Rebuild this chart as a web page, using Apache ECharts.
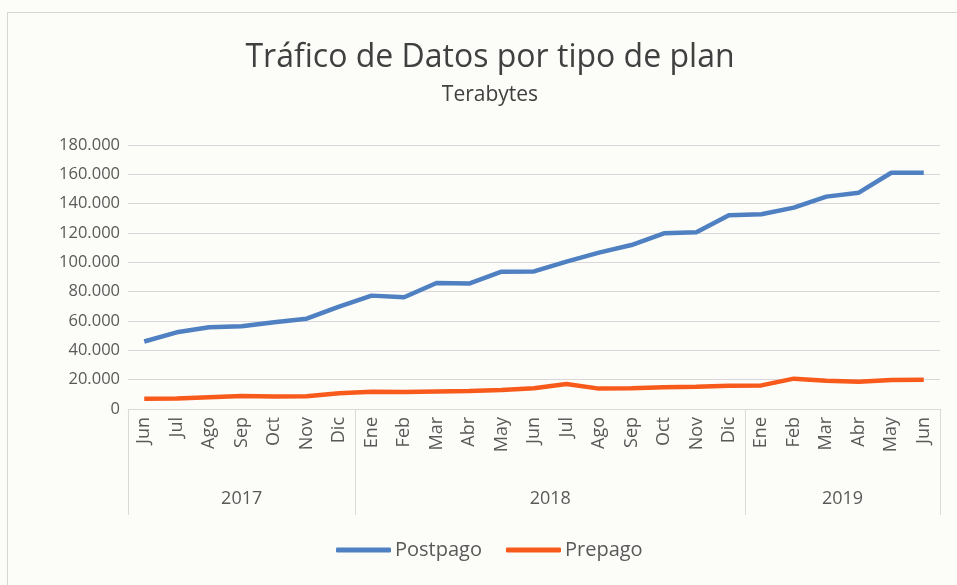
<!DOCTYPE html>
<html>
<head>
<meta charset="utf-8">
<script src="https://cdn.jsdelivr.net/npm/echarts@6/dist/echarts.min.js"></script>
<style>
  html, body { margin: 0; padding: 0; background: #fcfcf8; }
  #frame { position: absolute; left: 7px; top: 12px; width: 960px; height: 590px; border: 1px solid #d6d6d6; box-sizing: border-box; }
  #chart { position: absolute; left: 0; top: 0; width: 957px; height: 585px; }
</style>
</head>
<body>
<div id="frame"></div>
<div id="chart"></div>
<script>
const months = ['Jun','Jul','Ago','Sep','Oct','Nov','Dic','Ene','Feb','Mar','Abr','May','Jun','Jul','Ago','Sep','Oct','Nov','Dic','Ene','Feb','Mar','Abr','May','Jun'];
const monthYears = ['2017','2017','2017','2017','2017','2017','2017',
  '2018','2018','2018','2018','2018','2018','2018','2018','2018','2018','2018','2018',
  '2019','2019','2019','2019','2019','2019'];
const postpago = [46000, 52300, 55700, 56400, 59100, 61600, 69800, 77300, 76200, 85900, 85500, 93600, 93800, 100500, 106600, 111800, 119800, 120500, 132100, 132800, 137300, 144800, 147500, 161100, 161000];
const prepago = [7000, 7200, 8000, 8800, 8500, 8700, 10700, 11800, 11600, 12000, 12300, 13000, 14100, 17000, 13900, 14100, 14800, 15200, 15900, 16100, 20700, 19300, 18600, 19800, 20000];

// year groups derived from monthYears
const years = [];
const yearStart = [];
const yearCount = [];
monthYears.forEach((y, i) => {
  if (!years.length || years[years.length - 1] !== y) { years.push(y); yearStart.push(i); yearCount.push(0); }
  yearCount[yearCount.length - 1]++;
});
const yearCenters = years.map((y, k) => yearStart[k] + yearCount[k] / 2);

const fontFam = '"Open Sans", "Noto Sans", sans-serif';
const txt = '#595959';

function fmt(v) {
  return String(v).replace(/\B(?=(\d{3})+(?!\d))/g, '.');
}

const chart = echarts.init(document.getElementById('chart'), null, { renderer: 'canvas' });
chart.setOption({
  animation: false,
  textStyle: { fontFamily: fontFam },
  title: {
    text: 'Tráfico de Datos por tipo de plan',
    subtext: 'Terabytes',
    left: 485,
    textAlign: 'center',
    top: 37,
    itemGap: 11,
    textStyle: { fontSize: 32, fontWeight: 'normal', color: '#404040', fontFamily: fontFam },
    subtextStyle: { fontSize: 21, color: '#404040', fontFamily: fontFam }
  },
  legend: {
    bottom: 20,
    left: 331,
    icon: 'roundRect',
    itemWidth: 55,
    itemHeight: 5,
    itemGap: 24,
    textStyle: { fontSize: 20, color: txt, fontFamily: fontFam, padding: [0, 0, 0, -1] },
    data: ['Postpago', 'Prepago']
  },
  grid: { left: 128, right: 17, top: 145, bottom: 176, containLabel: false },
  xAxis: [
    {
      type: 'category',
      data: months,
      boundaryGap: true,
      axisLine: { show: true, lineStyle: { color: '#d9d9d9', width: 1 } },
      axisTick: {
        show: true,
        length: 106,
        interval: function (index) { return yearStart.indexOf(index) >= 0; },
        lineStyle: { color: '#d9d9d9', width: 1 }
      },
      axisLabel: { interval: 0, rotate: 90, fontSize: 18, color: txt, margin: 8, fontFamily: fontFam },
      splitLine: { show: false }
    },
    {
      type: 'value',
      position: 'bottom',
      min: 0,
      max: months.length,
      offset: 76,
      axisLine: { show: false },
      axisTick: { show: false },
      splitLine: { show: false },
      axisLabel: {
        customValues: yearCenters,
        fontSize: 18,
        color: txt,
        margin: 5,
        fontFamily: fontFam,
        formatter: function (v) {
          const k = yearCenters.indexOf(v);
          return k >= 0 ? years[k] : '';
        }
      }
    }
  ],
  yAxis: {
    type: 'value',
    min: 0,
    max: 180000,
    interval: 20000,
    axisLine: { show: false },
    axisTick: { show: false },
    axisLabel: { fontSize: 16.5, color: txt, margin: 8, fontFamily: fontFam, formatter: fmt },
    splitLine: { lineStyle: { color: '#dcd6dc', width: 1 } }
  },
  series: [
    {
      name: 'Postpago',
      type: 'line',
      data: postpago,
      symbol: 'none',
      lineStyle: { color: '#4f80c1', width: 4.5 },
      itemStyle: { color: '#4f80c1' }
    },
    {
      name: 'Prepago',
      type: 'line',
      data: prepago,
      symbol: 'none',
      lineStyle: { color: '#f85a1c', width: 4.5 },
      itemStyle: { color: '#f85a1c' }
    }
  ]
});
</script>
</body>
</html>
